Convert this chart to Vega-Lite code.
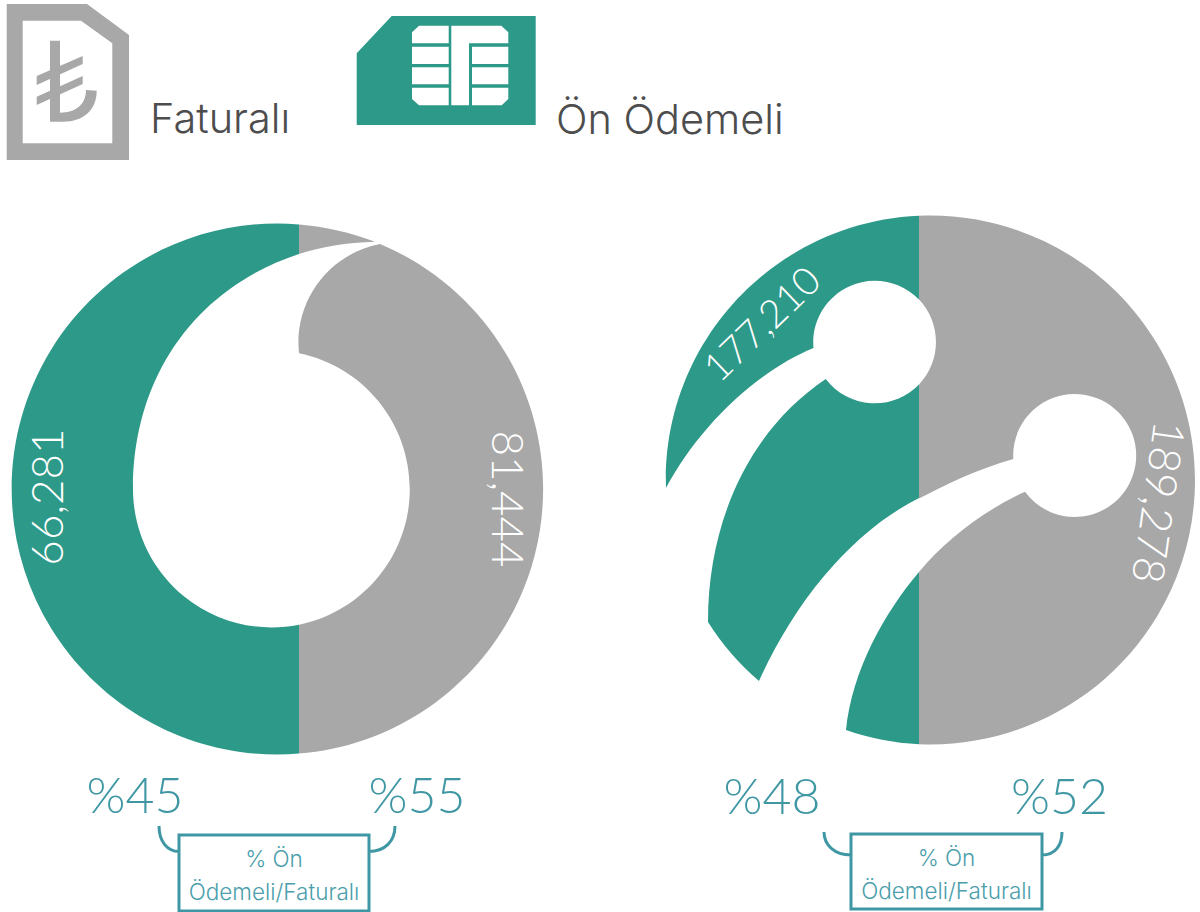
{"$schema":"https://vega.github.io/schema/vega-lite/v6.json","width":1200,"height":912,"padding":0,"autosize":{"type":"fit","contains":"padding"},"background":"white","config":{"view":{"stroke":null},"scale":{"pointPadding":0},"text":{"font":"Lato"}},
"datasets":{"subscribers":[
{"operator":"Vodafone","plan":"Faturalı","segment":"Vodafone Faturalı","subscribers":81444,"share":"%55"},
{"operator":"Vodafone","plan":"Ön Ödemeli","segment":"Vodafone Ön Ödemeli","subscribers":66281,"share":"%45"},
{"operator":"Türk Telekom","plan":"Faturalı","segment":"Türk Telekom Faturalı","subscribers":189278,"share":"%52"},
{"operator":"Türk Telekom","plan":"Ön Ödemeli","segment":"Türk Telekom Ön Ödemeli","subscribers":177210,"share":"%48"}],
"plans":[{"plan":"Faturalı"},{"plan":"Ön Ödemeli"}],
"notes":[{"operator":"Vodafone","note":"% Ön\nÖdemeli/Faturalı"},{"operator":"Türk Telekom","note":"% Ön\nÖdemeli/Faturalı"}]},
"data":{"name":"subscribers"},
"resolve":{"scale":{"x":"independent","y":"independent","shape":"independent","angle":"independent","size":"independent"}},
"layer":[
{"mark":{"type":"point","filled":true,"opacity":1,"size":4,"strokeWidth":0},
"encoding":{"x":{"field":"operator","type":"nominal","axis":null,"scale":{"type":"point","domain":["Vodafone","Türk Telekom"],"range":[277,930.5]}},
"y":{"field":"operator","type":"nominal","axis":null,"scale":{"type":"point","domain":["Vodafone","Türk Telekom"],"range":[489,480]}},
"color":{"field":"plan","type":"nominal","legend":null,"scale":{"domain":["Faturalı","Ön Ödemeli"],"range":["#A8A8A8","#2D9988"]}},
"shape":{"field":"segment","type":"nominal","legend":null,"scale":{"domain":["Vodafone Faturalı","Vodafone Ön Ödemeli","Türk Telekom Faturalı","Türk Telekom Ön Ödemeli"],"range":[
"M103,-245 A265.5,265.5 0 0 1 22,264.6 L22,135.7 A138.5,138.5 0 0 0 22,-135.7 A100.5,100.5 0 0 1 103,-245 Z M22,-264.6 A265.5,265.5 0 0 1 98,-247.2 C70,-246.4 43.5,-242 22,-235 Z",
"M22,-264.6 A265.5,265.5 0 1 0 22,264.6 L22,135.7 A138.5,138.5 0 0 1 -144,0 C-144,-115.2 -78.7,-202.2 22,-235 Z",
"M-11.5,-264.25 A264.5,264.5 0 1 1 -11.5,264.25 L-11.5,92 C14.5,60 54.5,30 94.5,11.7 A61.5,61.5 0 1 0 82.8,-21 C44.5,-10 14.5,5 -11.5,18.5 L-11.5,-95.6 A61.5,61.5 0 0 0 -11.5,-180.4 Z",
"M-11.5,-264.25 A264.5,264.5 0 0 0 -264.5,8 C-232.5,-52 -175.5,-108 -117,-132 A61.5,61.5 0 0 1 -11.5,-180.4 Z M-104.8,-101 A61.5,61.5 0 0 0 -11.5,-95.6 L-11.5,18 C-75.5,50 -133.5,117 -171.5,201 A264.5,264.5 0 0 1 -222.5,142 C-222.5,40 -180.5,-50 -104.8,-101 Z M-11.5,92 C-45.5,132 -78.5,190 -84.5,250 A264.5,264.5 0 0 0 -11.5,264.25 Z"
]}}}},
{"data":{"name":"plans"},"mark":{"type":"point","filled":true,"opacity":1,"size":4,"strokeWidth":0},
"encoding":{"x":{"field":"plan","type":"nominal","axis":null,"scale":{"type":"point","domain":["Faturalı","Ön Ödemeli"],"range":[6.7,356.7]}},
"y":{"field":"plan","type":"nominal","axis":null,"scale":{"type":"point","domain":["Faturalı","Ön Ödemeli"],"range":[4,16]}},
"color":{"field":"plan","type":"nominal","legend":null,"scale":{"domain":["Faturalı","Ön Ödemeli"],"range":["#A8A8A8","#2D9988"]}},
"shape":{"field":"plan","type":"nominal","legend":null,"scale":{"domain":["Faturalı","Ön Ödemeli"],"range":[
"M0,0 L80.3,0 L122.3,31 L122.3,156 L0,156 Z M16,16.7 L16,139.3 L105.6,139.3 L105.6,39.3 L74.3,16.7 Z M43.3,117.7 L56.6,117.7 C76.6,117.7 90,106 90,86.7 L79.3,86 C79.3,101 68.3,108.7 53.3,108.7 L53.3,36.7 L43.3,36.7 Z M30,72 L30,81 L76,60 L76,52 Z M30,92.7 L30,101 L76,80 L76,72 Z",
"M35,0 L179,0 L179,109 L0,109 L0,37.3 Z M62.3,9.7 L55.3,16.3 L55.3,27.3 L92,27.3 L92,9.7 Z M55.3,30.7 L55.3,48 L92,48 L92,30.7 Z M55.3,51.3 L55.3,68.3 L92,68.3 L92,51.3 Z M55.3,71.7 L55.3,83 L62.3,89.3 L92,89.3 L92,71.7 Z M94.6,9.7 L94.6,89.3 L112.3,89.3 L112.3,27.3 L151.6,27.3 L151.6,16.3 L144.6,9.7 Z M115.3,30.7 L115.3,48 L151.6,48 L151.6,30.7 Z M115.3,51.3 L115.3,68.3 L151.6,68.3 L151.6,51.3 Z M115.3,71.7 L115.3,89.3 L145,89.3 L151.6,83 L151.6,71.7 Z"
]}}}},
{"data":{"name":"plans"},"mark":{"type":"text","font":"Inter","fontWeight":300,"fontSize":41.5,"align":"left","baseline":"alphabetic","color":"#4D4D4D"},
"encoding":{"x":{"field":"plan","type":"nominal","axis":null,"scale":{"type":"point","domain":["Faturalı","Ön Ödemeli"],"range":[150,556]}},
"y":{"field":"plan","type":"nominal","axis":null,"scale":{"type":"point","domain":["Faturalı","Ön Ödemeli"],"range":[133,133.5]}},
"text":{"field":"plan"}}},
{"transform":[{"filter":"datum.plan==='Ön Ödemeli'"}],"mark":{"type":"text","font":"Lato","fontWeight":300,"align":"center","baseline":"middle","color":"white"},
"encoding":{"x":{"field":"operator","type":"nominal","axis":null,"scale":{"type":"point","domain":["Vodafone","Türk Telekom"],"range":[49.5,763]}},
"y":{"field":"operator","type":"nominal","axis":null,"scale":{"type":"point","domain":["Vodafone","Türk Telekom"],"range":[497,325]}},
"angle":{"field":"operator","type":"nominal","legend":null,"scale":{"domain":["Vodafone","Türk Telekom"],"range":[270,316]}},
"size":{"field":"operator","type":"ordinal","legend":null,"scale":{"domain":["Vodafone","Türk Telekom"],"range":[44,39]}},
"text":{"field":"subscribers","type":"quantitative","format":","}}},
{"transform":[{"filter":"datum.plan==='Faturalı'"}],"mark":{"type":"text","font":"Lato","fontWeight":300,"fontSize":44,"align":"center","baseline":"middle","color":"white"},
"encoding":{"x":{"field":"operator","type":"nominal","axis":null,"scale":{"type":"point","domain":["Vodafone","Türk Telekom"],"range":[505,1156]}},
"y":{"field":"operator","type":"nominal","axis":null,"scale":{"type":"point","domain":["Vodafone","Türk Telekom"],"range":[499,502]}},
"angle":{"field":"operator","type":"nominal","legend":null,"scale":{"domain":["Vodafone","Türk Telekom"],"range":[90,98]}},
"text":{"field":"subscribers","type":"quantitative","format":","}}},
{"transform":[{"filter":"datum.plan==='Ön Ödemeli'"}],"mark":{"type":"text","font":"Lato","fontWeight":300,"fontSize":50,"align":"center","baseline":"middle","color":"#3F97A4"},
"encoding":{"x":{"field":"operator","type":"nominal","axis":null,"scale":{"type":"point","domain":["Vodafone","Türk Telekom"],"range":[135,772]}},
"y":{"field":"operator","type":"nominal","axis":null,"scale":{"type":"point","domain":["Vodafone","Türk Telekom"],"range":[798,798.5]}},
"text":{"field":"share"}}},
{"transform":[{"filter":"datum.plan==='Faturalı'"}],"mark":{"type":"text","font":"Lato","fontWeight":300,"fontSize":50,"align":"center","baseline":"middle","color":"#3F97A4"},
"encoding":{"x":{"field":"operator","type":"nominal","axis":null,"scale":{"type":"point","domain":["Vodafone","Türk Telekom"],"range":[417,1059.5]}},
"y":{"field":"operator","type":"nominal","axis":null,"scale":{"type":"point","domain":["Vodafone","Türk Telekom"],"range":[798,798.5]}},
"text":{"field":"share"}}},
{"data":{"name":"notes"},"mark":{"type":"point","filled":false,"opacity":1,"size":4,"strokeWidth":3,"color":"#3F97A4"},
"encoding":{"x":{"field":"operator","type":"nominal","axis":null,"scale":{"type":"point","domain":["Vodafone","Türk Telekom"],"range":[277,930.5]}},
"y":{"field":"operator","type":"nominal","axis":null,"scale":{"type":"point","domain":["Vodafone","Türk Telekom"],"range":[489,480]}},
"shape":{"field":"operator","type":"nominal","legend":null,"scale":{"domain":["Vodafone","Türk Telekom"],"range":[
"M-98,346 L92,346 L92,422 L-98,422 Z M-118,337 C-118,352 -110,362.5 -98,362.5 M118,337 C118,352 108,362.5 92,362.5",
"M-79.5,354 L111.5,354 L111.5,429 L-79.5,429 Z M-106.5,352 C-106.5,365 -96,375 -79.5,375 M131.5,352 C131.5,365 125,375 111.5,375"
]}}}},
{"data":{"name":"notes"},"mark":{"type":"text","font":"Inter","fontWeight":300,"fontSize":22.5,"lineHeight":33,"lineBreak":"\n","align":"center","baseline":"middle","color":"#4A9EAB"},
"encoding":{"x":{"field":"operator","type":"nominal","axis":null,"scale":{"type":"point","domain":["Vodafone","Türk Telekom"],"range":[274,946.5]}},
"y":{"field":"operator","type":"nominal","axis":null,"scale":{"type":"point","domain":["Vodafone","Türk Telekom"],"range":[860,859]}},
"text":{"field":"note"}}}
]}
